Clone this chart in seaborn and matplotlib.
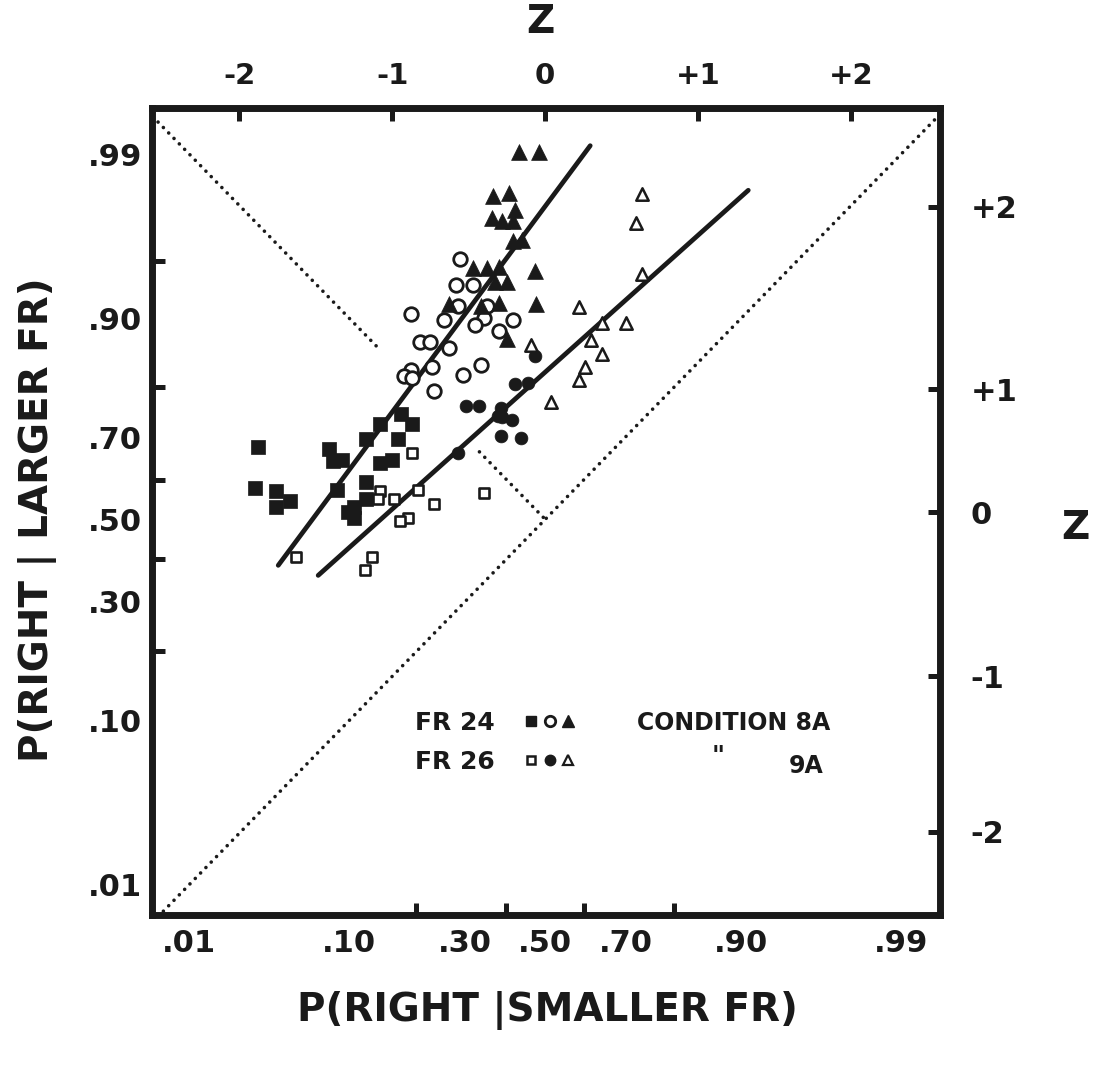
import numpy as np
import pandas as pd
import matplotlib
matplotlib.use("Agg")
import matplotlib.pyplot as plt
import seaborn as sns
from statistics import NormalDist
from matplotlib.lines import Line2D
from matplotlib.legend_handler import HandlerTuple

# ---------------- data (normal-deviate z coordinates) ----------------
# FR 24 (condition 8A): filled squares, open circles, filled triangles
fr24_sq_x = [-1.88, -1.90, -1.76, -1.76, -1.67, -1.41, -1.39, -1.33, -1.36, -1.17, -1.08,
             -0.94, -0.87, -0.96, -1.08, -1.00, -1.17, -1.17, -1.29, -1.25, -1.25]
fr24_sq_y = [0.46, 0.20, 0.18, 0.08, 0.12, 0.45, 0.37, 0.38, 0.19, 0.51, 0.61,
             0.67, 0.61, 0.51, 0.36, 0.38, 0.24, 0.13, 0.05, 0.08, 0.01]

fr24_circ_x = [-0.56, -0.58, -0.47, -0.57, -0.88, -0.66, -0.38, -0.40, -0.46, -0.21, -0.30,
               -0.82, -0.75, -0.63, -0.88, -0.92, -0.87, -0.74, -0.54, -0.42, -0.73]
fr24_circ_y = [1.66, 1.49, 1.49, 1.36, 1.31, 1.27, 1.36, 1.28, 1.24, 1.27, 1.20,
               1.13, 1.13, 1.09, 0.95, 0.91, 0.90, 0.97, 0.92, 0.98, 0.82]

fr24_tri_x = [-0.17, -0.04, -0.34, -0.24, -0.20, -0.35, -0.28, -0.21, -0.21, -0.15, -0.47,
              -0.38, -0.30, -0.07, -0.33, -0.25, -0.63, -0.42, -0.30, -0.06, -0.25]
fr24_tri_y = [2.34, 2.34, 2.06, 2.08, 1.97, 1.92, 1.90, 1.90, 1.77, 1.78, 1.60,
              1.60, 1.61, 1.58, 1.51, 1.51, 1.37, 1.36, 1.38, 1.37, 1.15]

# FR 26 (condition 9A): open squares, filled circles, open triangles
fr26_sq_x = [-1.63, -1.13, -1.18, -0.87, -1.08, -1.09, -0.99, -0.90, -0.95, -0.73, -0.83, -0.40]
fr26_sq_y = [-0.24, -0.24, -0.32, 0.42, 0.18, 0.13, 0.13, 0.01, -0.01, 0.10, 0.19, 0.17]

fr26_circ_x = [-0.52, -0.43, -0.29, -0.31, -0.28, -0.22, -0.29, -0.16, -0.20, -0.11, -0.07, -0.57]
fr26_circ_y = [0.72, 0.72, 0.71, 0.66, 0.65, 0.63, 0.53, 0.52, 0.86, 0.87, 1.04, 0.42]

fr26_tri_x = [0.63, 0.59, 0.63, 0.22, 0.53, 0.37, 0.30, 0.37, 0.26, 0.22, 0.04, -0.09]
fr26_tri_y = [2.07, 1.89, 1.56, 1.35, 1.25, 1.25, 1.14, 1.05, 0.97, 0.89, 0.75, 1.11]

# fitted lines (end points)
fit24_x = [-1.745, 0.294]
fit24_y = [-0.293, 2.38]
fit26_x = [-1.484, 1.327]
fit26_y = [-0.357, 2.096]

# dotted reference lines: chance diagonal and pieces of the negative diagonal
diag_x = [-2.6, 2.6]
anti1_x = [-2.6, -1.08]
anti2_x = [-0.43, 0.0]

# axis ticks
bottom_mark_p = [.01, .10, .20, .30, .40, .50, .60, .70, .80, .90, .99]
left_mark_p = [.01, .10, .20, .30, .40, .50, .60, .70, .80, .95, .99]
prob_label_p = [.01, .10, .30, .50, .70, .90, .99]
prob_labels = ['.01', '.10', '.30', '.50', '.70', '.90', '.99']
top_z = [-2, -1, 0, 1, 2]
top_labels = ['-2', '-1', '0', '+1', '+2']
right_z = [1.99, 0.83, 0.045, -1.0, -1.99]
right_labels = ['+2', '+1', '0', '-1', '-2']

# ---------------- drawing ----------------
nd = NormalDist()
def z(ps):
    return [nd.inv_cdf(p) for p in ps]

sns.set_theme(style="white")
plt.rcParams['font.family'] = ['DejaVu Sans']
plt.rcParams['font.weight'] = 'bold'
for key in ('text.color', 'axes.labelcolor', 'xtick.color', 'ytick.color', 'axes.edgecolor'):
    plt.rcParams[key] = 'black'

W, H = 1098, 1065
fig = plt.figure(figsize=(W / 100, H / 100), dpi=100)
fig.patch.set_facecolor('white')
ax = fig.add_axes([152 / W, 1 - 915 / H, (940 - 152) / W, (915 - 108) / H])
ax.set_facecolor('white')
ax.set_xlim(-2.57, 2.58)
ax.set_ylim(-2.52, 2.62)

dot = dict(color='k', lw=2.6, ls=(0, (0.01, 2.1)), dash_capstyle='round', zorder=1)
d = np.array(diag_x)
ax.plot(d, d, **dot)
for seg in (anti1_x, anti2_x):
    s_ = np.array(seg)
    ax.plot(s_, -s_, **dot)

sns.lineplot(x=fit24_x, y=fit24_y, ax=ax, color='k', lw=3.4, sort=False, estimator=None, zorder=2)
sns.lineplot(x=fit26_x, y=fit26_y, ax=ax, color='k', lw=3.4, sort=False, estimator=None, zorder=2)

specs = [
    (fr24_sq_x, fr24_sq_y, 's', 105, 'k', 0.5),
    (fr24_circ_x, fr24_circ_y, 'o', 95, 'white', 2.0),
    (fr24_tri_x, fr24_tri_y, '^', 130, 'k', 0.5),
    (fr26_sq_x, fr26_sq_y, 's', 42, 'white', 1.9),
    (fr26_circ_x, fr26_circ_y, 'o', 85, 'k', 0.5),
    (fr26_tri_x, fr26_tri_y, '^', 80, 'white', 1.8),
]
for xs, ys, m, s, fc, lw in specs:
    sns.scatterplot(x=xs, y=ys, ax=ax, marker=m, s=s, facecolor=fc, edgecolor='k',
                    linewidth=lw, zorder=3, legend=False)

# frame
for sp in ax.spines.values():
    sp.set_linewidth(5)
    sp.set_color('k')
    sp.set_capstyle('projecting')

# bottom / left probability ticks
ax.set_xticks(z(prob_label_p), labels=prob_labels)
ax.set_xticks(z(bottom_mark_p), minor=True)
ax.set_yticks(z(prob_label_p), labels=prob_labels)
ax.set_yticks(z(left_mark_p), minor=True)
ax.tick_params(which='major', length=0, labelsize=22, labelcolor='k')
ax.tick_params(axis='x', which='major', pad=10)
ax.tick_params(axis='y', which='major', pad=7)
ax.tick_params(which='minor', direction='in', length=9, width=3.6, color='k',
               bottom=True, left=True, top=False, right=False)

# top z axis
top = ax.secondary_xaxis('top')
top.set_xticks(top_z, labels=top_labels)
top.tick_params(direction='in', length=9, width=3.6, color='k', labelcolor='k',
                labelsize=21, pad=13, top=True)
for sp in top.spines.values():
    sp.set_visible(False)

# right z axis
rgt = ax.secondary_yaxis('right')
rgt.set_yticks(right_z, labels=right_labels)
rgt.tick_params(direction='in', length=9, width=3.6, color='k', labelcolor='k',
                labelsize=22, pad=22, right=True)
for sp in rgt.spines.values():
    sp.set_visible(False)

# axis titles
fig.text(540 / W, 1 - 22 / H, 'Z', fontsize=28, ha='center', va='center', color='k')
fig.text(1075 / W, 1 - 528 / H, 'Z', fontsize=28, ha='center', va='center', color='k')
fig.text(547 / W, 1 - 1010 / H, 'P(RIGHT |SMALLER FR)', fontsize=28, ha='center',
         va='center', color='k')
fig.text(38 / W, 1 - 520 / H, 'P(RIGHT | LARGER FR)', fontsize=28, ha='center', va='center',
         rotation=90, color='k')

# legend
h24 = (Line2D([], [], marker='s', ls='none', ms=7.5, mfc='k', mec='k'),
       Line2D([], [], marker='o', ls='none', ms=7.5, mfc='white', mec='k', mew=2),
       Line2D([], [], marker='^', ls='none', ms=8.5, mfc='k', mec='k'))
h26 = (Line2D([], [], marker='s', ls='none', ms=5.5, mfc='white', mec='k', mew=1.8),
       Line2D([], [], marker='o', ls='none', ms=7.5, mfc='k', mec='k'),
       Line2D([], [], marker='^', ls='none', ms=6.5, mfc='white', mec='k', mew=1.6))
leg = ax.legend([h24, h26], ['FR 24', 'FR 26'],
                handler_map={tuple: HandlerTuple(ndivide=None, pad=0)},
                markerfirst=False, frameon=False, fontsize=18, handlelength=2.2,
                handletextpad=1.1, labelspacing=0.6, borderpad=0, borderaxespad=0,
                loc='upper left', bbox_to_anchor=(415 / W, 1 - 711 / H),
                bbox_transform=fig.transFigure)
for t in leg.get_texts():
    t.set_color('k')
fig.text(637 / W, 1 - 723 / H, 'CONDITION 8A', fontsize=17, ha='left', va='center', color='k')
fig.text(718 / W, 1 - 756 / H, '"', fontsize=18, ha='center', va='center', color='k')
fig.text(824 / W, 1 - 766 / H, '9A', fontsize=17, ha='right', va='center', color='k')

fig.savefig('out.png', dpi=100, facecolor='white')
